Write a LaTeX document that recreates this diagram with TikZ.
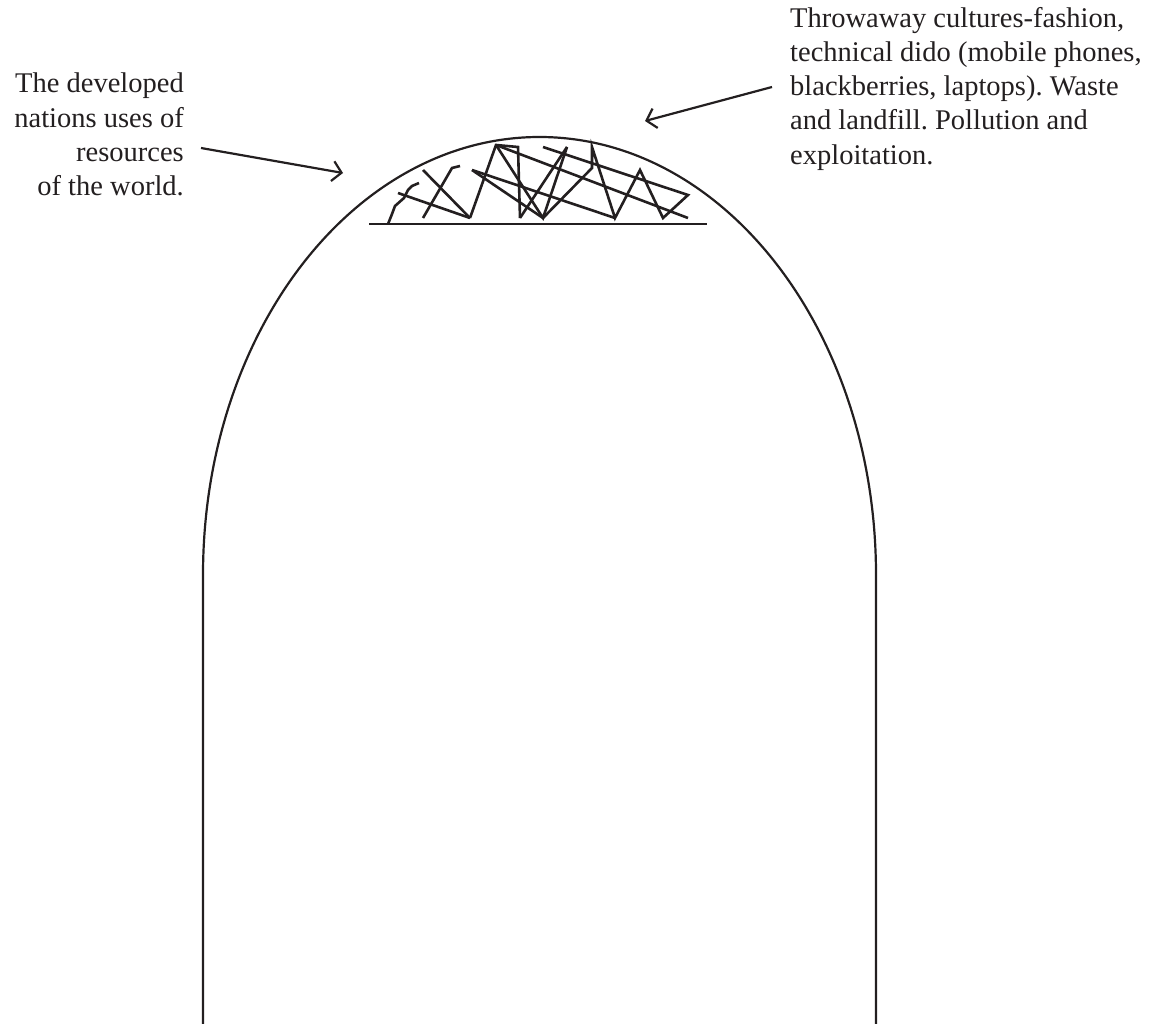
\documentclass[tikz,border=0pt]{standalone}
\usepackage{fontspec}
\setmainfont{Liberation Serif}
\usetikzlibrary{arrows.meta}
\definecolor{ink}{RGB}{35,31,32}
\begin{document}
\begin{tikzpicture}[x=1pt,y=1pt,
  ln/.style={line width=2.2pt, draw=ink},
  scr/.style={line width=2.6pt, draw=ink, line join=miter},
  lbl/.style={inner sep=0pt, text=ink, font=\fontsize{28.5}{34.2}\selectfont\frenchspacing},
  pointer/.style={line width=2.2pt, draw=ink, -{Straight Barb[length=9pt,width=20pt,line width=2.2pt]}}]
\useasboundingbox (0,0) rectangle (1157,-1024);
% arch
\draw[ln] (203,-1024) -- (203,-575) arc[start angle=180,end angle=0,x radius=336.5pt,y radius=438pt] -- (876,-1024);
% base line
\coordinate (bl) at (369,-224);
\coordinate (br) at (707,-224);
\draw[ln] (bl) -- (br);
% scribble
\draw[scr] (388,-224) -- (392,-214) -- (395,-206) -- (404,-198) -- (408,-190) -- (412,-186) -- (419,-183);
\draw[scr] (398,-193) -- (470,-218);
\draw[scr] (423,-170) -- (470,-218);
\draw[scr] (423,-218) -- (452,-168) -- (460,-166);
\draw[scr] (470,-218) -- (496,-145) -- (518,-147) -- (520,-218);
\draw[scr] (496,-145) -- (543,-218) -- (567,-147);
\draw[scr] (472,-170) -- (543,-218);
\draw[scr] (472,-170) -- (615,-218);
\draw[scr] (520,-218) -- (567,-147);
\draw[scr] (543,-218) -- (592,-168) -- (592,-147) -- (615,-218) -- (640,-170) -- (663,-218) -- (688,-195) -- (543,-147);
\draw[scr] (496,-145) -- (688,-218);
% labels
\node[lbl, align=right, anchor=north east] (left) at (184,-73) {The developed\\nations uses of\\resources\\of the world.};
\node[lbl, align=left, anchor=north west] (right) at (790,-7) {Throwaway cultures-fashion,\\technical dido (mobile phones,\\blackberries, laptops). Waste\\and landfill. Pollution and\\exploitation.};
% pointers
\coordinate (ls) at (201,-148);
\coordinate (le) at (343,-173);
\coordinate (rs) at (772,-87);
\coordinate (re) at (645,-121);
\draw[pointer] (ls) -- (le);
\draw[pointer] (rs) -- (re);
\end{tikzpicture}
\end{document}
